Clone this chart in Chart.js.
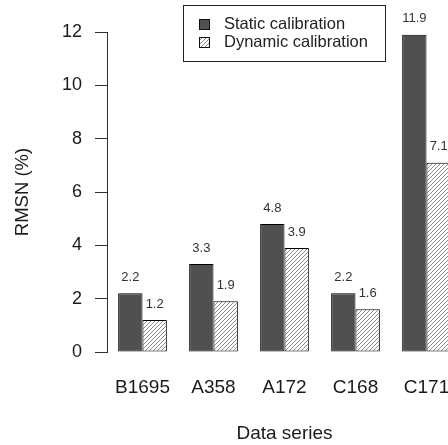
<!DOCTYPE html>
<html>
<head>
<meta charset="utf-8">
<script src="https://cdn.jsdelivr.net/npm/chart.js@4/dist/chart.umd.min.js"></script>
<style>
  html, body { margin: 0; padding: 0; background: #fff; overflow: hidden; width: 448px; height: 445px; }
  canvas { display: block; }
</style>
</head>
<body>
<canvas id="c" width="470" height="445" style="width:470px;height:445px"></canvas>
<script>
const categories = ['B1695', 'A358', 'A172', 'C168', 'C171'];
const staticValues = [2.2, 3.3, 4.8, 2.2, 11.9];
const dynamicValues = [1.2, 1.9, 3.9, 1.6, 7.1];
const seriesNames = ['Static calibration', 'Dynamic calibration'];
const yMin = 0, yMax = 12, yStep = 2;

const FONT = "'Liberation Sans', Arial, sans-serif";
const STATIC_FILL = '#505050';

function makeHatch() {
  const c = document.createElement('canvas');
  c.width = 4; c.height = 4;
  const g = c.getContext('2d');
  g.fillStyle = '#ffffff';
  g.fillRect(0, 0, 4, 4);
  g.strokeStyle = '#8a8a8a';
  g.lineWidth = 1;
  g.beginPath();
  g.moveTo(-1, 5); g.lineTo(5, -1);
  g.moveTo(-1, 1); g.lineTo(1, -1);
  g.moveTo(3, 5); g.lineTo(5, 3);
  g.stroke();
  return g.createPattern(c, 'repeat');
}
const hatch = makeHatch();

const valueLabels = {
  id: 'valueLabels',
  afterDatasetsDraw(chart) {
    const ctx = chart.ctx;
    ctx.save();
    ctx.font = '13px ' + FONT;
    ctx.fillStyle = '#333';
    ctx.textAlign = 'center';
    ctx.textBaseline = 'middle';
    chart.data.datasets.forEach((ds, di) => {
      const meta = chart.getDatasetMeta(di);
      meta.data.forEach((el, i) => {
        ctx.fillText(ds.data[i].toFixed(1), el.x, el.y - 16);
      });
    });
    ctx.restore();
  }
};

const boxLegend = {
  id: 'boxLegend',
  afterDraw(chart) {
    const ctx = chart.ctx;
    ctx.save();
    ctx.fillStyle = '#fff';
    ctx.fillRect(183.5, 5.5, 202, 56);
    ctx.strokeStyle = '#222';
    ctx.lineWidth = 1;
    ctx.strokeRect(183.5, 5.5, 202, 56);
    const rows = [24.3, 42.7];
    const fills = [STATIC_FILL, hatch];
    rows.forEach((y, i) => {
      ctx.fillStyle = fills[i];
      ctx.fillRect(199, Math.round(y - 5.5), 11, 11);
      ctx.strokeStyle = '#111';
      ctx.strokeRect(199.5, Math.round(y - 5.5) + 0.5, 10, 10);
      ctx.fillStyle = '#222';
      ctx.font = '16.5px ' + FONT;
      ctx.textAlign = 'left';
      ctx.textBaseline = 'middle';
      ctx.fillText(seriesNames[i], 224, y);
    });
    ctx.restore();
  }
};

new Chart(document.getElementById('c'), {
  type: 'bar',
  data: {
    labels: categories,
    datasets: [
      { label: seriesNames[0], data: staticValues, backgroundColor: STATIC_FILL, borderColor: '#000', borderWidth: 1, borderSkipped: false, categoryPercentage: 0.686, barPercentage: 1.0 },
      { label: seriesNames[1], data: dynamicValues, backgroundColor: hatch, borderColor: '#000', borderWidth: 1, borderSkipped: false, categoryPercentage: 0.686, barPercentage: 1.0 }
    ]
  },
  options: {
    responsive: false,
    animation: false,
    devicePixelRatio: 1,
    layout: { padding: { left: 12, top: 32, right: 8, bottom: 0 } },
    plugins: {
      legend: { display: false },
      tooltip: { enabled: false },
      title: { display: false }
    },
    scales: {
      x: {
        type: 'category',
        offset: true,
        grid: { display: false, drawTicks: false },
        border: { display: false },
        ticks: { color: '#1a1a1a', font: { family: FONT, size: 19 }, padding: 24, maxRotation: 0, autoSkip: false },
        title: { display: true, text: 'Data series', color: '#1a1a1a', font: { family: FONT, size: 19 }, padding: { top: 0, bottom: 0 } },
        afterFit(scale) { scale.height = 93; scale.paddingLeft = 0; scale.paddingRight = 0; }
      },
      y: {
        min: yMin, max: yMax,
        grid: { display: true, drawOnChartArea: false, drawTicks: true, tickLength: 12, color: '#333', lineWidth: 1 },
        border: { display: true, color: '#333', width: 1 },
        ticks: { stepSize: yStep, color: '#1a1a1a', font: { family: FONT, size: 18 }, padding: 13 },
        title: { display: true, text: 'RMSN (%)', color: '#1a1a1a', font: { family: FONT, size: 18.5 }, padding: { top: 0, bottom: 0 } },
        afterFit(scale) { scale.width = 95; }
      }
    }
  },
  plugins: [valueLabels, boxLegend]
});
</script>
</body>
</html>
